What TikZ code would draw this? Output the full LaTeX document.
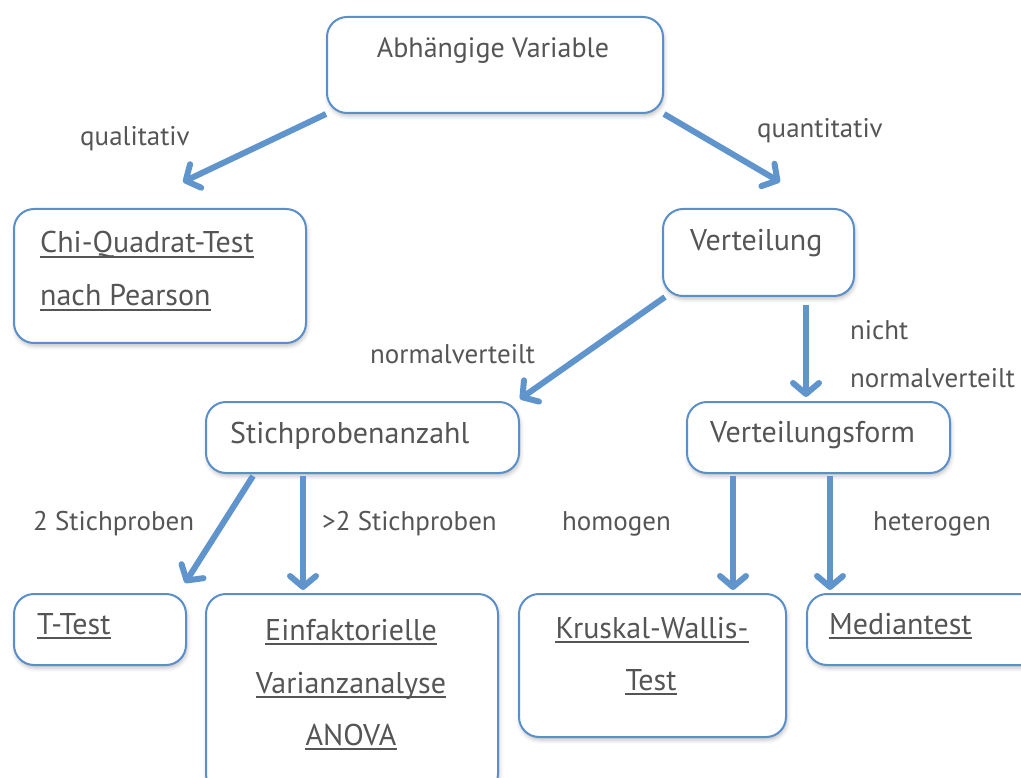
\documentclass[tikz,border=0pt]{standalone}
\usepackage{fontspec}
\setmainfont{PT Sans}
\usetikzlibrary{arrows.meta,calc,shadows.blur}
\definecolor{boxblue}{RGB}{91,143,201}
\definecolor{arrowblue}{RGB}{96,148,204}
\definecolor{txt}{RGB}{85,85,85}
\newcommand\uln[1]{\draw[uline] ([yshift=-4pt]#1.base west) -- ([yshift=-4pt]#1.base east);}
\begin{document}
\begin{tikzpicture}[x=1pt,y=-1pt,
  box/.style={draw=boxblue,line width=2pt,rounded corners=20pt,fill=white,anchor=north west,inner sep=0pt,
    blur shadow={shadow xshift=1pt,shadow yshift=-3pt,shadow blur radius=4pt,shadow opacity=25}},
  lab/.style={text=txt,font=\fontsize{27}{31}\selectfont,inner sep=0pt,anchor=base west},
  btw/.style={text=txt,font=\fontsize{30}{34}\selectfont,inner sep=0pt,anchor=base west},
  btc/.style={text=txt,font=\fontsize{30}{34}\selectfont,inner sep=0pt,anchor=base},
  uline/.style={draw=txt,line width=1.3pt},
  arr/.style={draw=arrowblue,line width=6pt,-{Straight Barb[length=11pt,width=26pt,round]}}]
\useasboundingbox (0,0) rectangle (1021,778);
% boxes
\node[box,minimum width=336pt,minimum height=96pt] (av) at (326,16) {};
\node[box,minimum width=292pt,minimum height=134pt] (chi) at (13,208) {};
\node[box,minimum width=191pt,minimum height=87pt] (vt) at (662,208) {};
\node[box,minimum width=313pt,minimum height=71pt] (sa) at (205,401) {};
\node[box,minimum width=263pt,minimum height=71pt] (vf) at (686,401) {};
\node[box,minimum width=172pt,minimum height=71pt] (tt) at (13,593) {};
\node[box,minimum width=292pt,minimum height=200pt] (ea) at (205,593) {};
\node[box,minimum width=267pt,minimum height=143pt] (kw) at (518,593) {};
\node[box,minimum width=240pt,minimum height=71pt] (mt) at (806,593) {};
% box texts
\node[btc,font=\fontsize{28}{32}\selectfont] (tav) at (493,58) {Abhängige Variable};
\node[btw] (tchi1) at (40,253) {Chi-Quadrat-Test};\uln{tchi1}
\node[btw] (tchi2) at (40,306) {nach Pearson};\uln{tchi2}
\node[btw] (tvt) at (690,251) {Verteilung};
\node[btw] (tsa) at (230,443) {Stichprobenanzahl};
\node[btw] (tvf) at (710,442) {Verteilungsform};
\node[btw] (ttt) at (37,634) {T-Test};\uln{ttt}
\node[btc] (tea1) at (351,640) {Einfaktorielle};\uln{tea1}
\node[btc] (tea2) at (351,693) {Varianzanalyse};\uln{tea2}
\node[btc] (tea3) at (351,745) {ANOVA};\uln{tea3}
\node[btc] (tkw1) at (652,638) {Kruskal-Wallis-};\uln{tkw1}
\node[btc] (tkw2) at (651,690) {Test};\uln{tkw2}
\node[btw] (tmt) at (829,634) {Mediantest};\uln{tmt}
% edge labels
\node[lab] (lq1) at (80,146) {qualitativ};
\node[lab] (lq2) at (757,138) {quantitativ};
\node[lab] (lnv) at (370,363) {normalverteilt};
\node[lab] (lnn1) at (850,339) {nicht};
\node[lab] (lnn2) at (850,387) {normalverteilt};
\node[lab] (l2s) at (33,530) {2 Stichproben};
\node[lab] (lg2) at (322,530) {>2 Stichproben};
\node[lab] (lho) at (562,530) {homogen};
\node[lab] (lhe) at (873,530) {heterogen};
% arrow free ends
\coordinate (e1) at (183,182);
\coordinate (e2) at (780,182);
\coordinate (s4) at (806,305);
% arrows
\draw[arr] (av.south west) -- (e1);
\draw[arr] (av.south east) -- (e2);
\draw[arr] ($(vt.south west)+(3,0)$) -- ($(sa.north east)+(0,-2)$);
\draw[arr] (s4) -- ($(vf.north west)+(120,-4)$);
\draw[arr] ($(sa.south west)+(48,2)$) -- ($(tt.north east)+(-2,-10)$);
\draw[arr] ($(sa.south west)+(98,2)$) -- ($(ea.north west)+(98,-3)$);
\draw[arr] ($(vf.south west)+(47,2)$) -- ($(kw.north west)+(215,-3)$);
\draw[arr] ($(vf.south west)+(144,2)$) -- ($(mt.north west)+(24,-3)$);
\end{tikzpicture}
\end{document}
